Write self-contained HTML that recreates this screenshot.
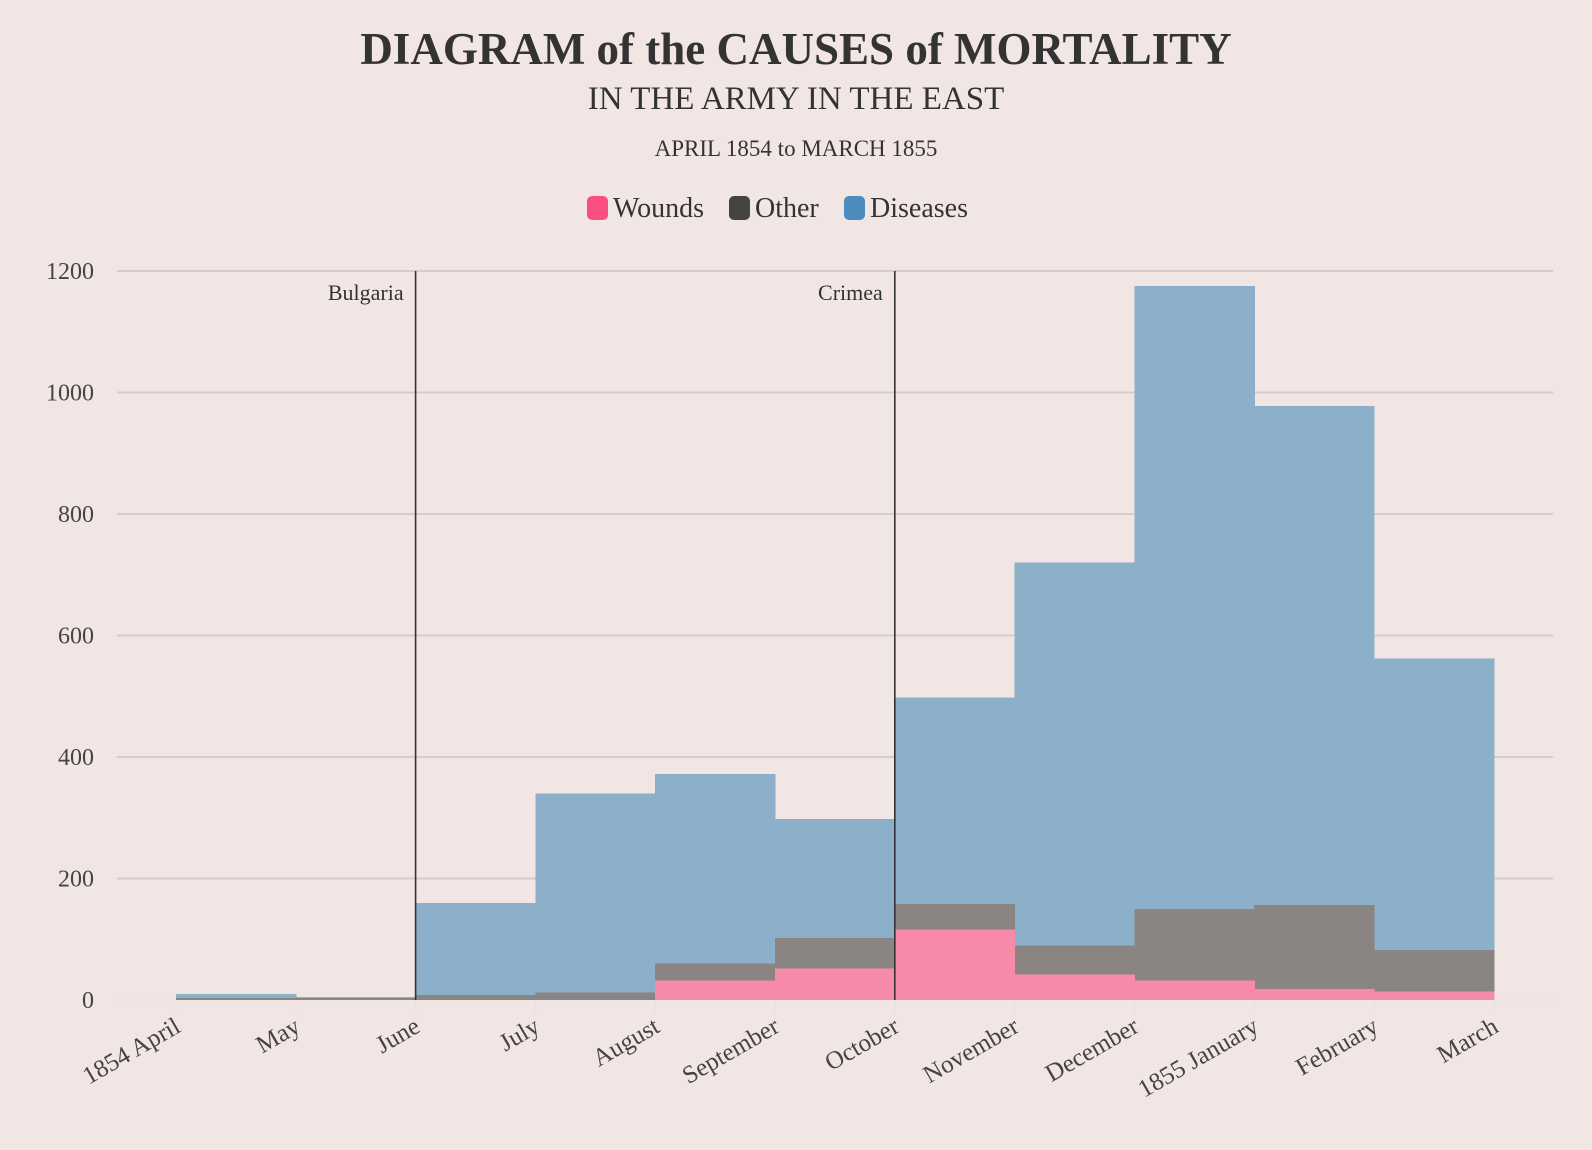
<!DOCTYPE html>
<html><head><meta charset="utf-8"><style>
html,body{margin:0;padding:0;background:#f2e6e5;}
svg{display:block;font-family:"Liberation Serif",serif;}
</style></head><body>
<svg id="chart" width="1592" height="1150" viewBox="0 0 1592 1150">
<rect width="1592" height="1150" fill="#f2e6e5"/>
<text x="796" y="64" text-anchor="middle" font-size="45" font-weight="bold" fill="#333">DIAGRAM of the CAUSES of MORTALITY</text>
<text x="796" y="109" text-anchor="middle" font-size="33" fill="#333">IN THE ARMY IN THE EAST</text>
<text x="796" y="156" text-anchor="middle" font-size="23" fill="#333">APRIL 1854 to MARCH 1855</text>
<g id="legend"></g>
<g id="grid"></g>
<g id="areas" shape-rendering="crispEdges"></g>
<g id="annot"></g>
<g id="xaxis"></g>
</svg>
<script>
const months = ["1854 April","May","June","July","August","September","October","November","December","1855 January","February","March"];
const diseases = [10,5,160,340,372,298,498,720,1175,978,562];
const other = [3,3,8,12,60,102,158,90,150,156,82];
const wounds = [0,0,0,0,32,52,116,42,32,18,14];
const yTicks = [0,200,400,600,800,1000,1200];
const events = [{label:"Bulgaria", idx:2},{label:"Crimea", idx:6}];

const NS="http://www.w3.org/2000/svg";
function mk(tag, attrs, parent){const e=document.createElementNS(NS,tag);for(const k in attrs)e.setAttribute(k,attrs[k]);parent.appendChild(e);return e;}
const x0=176, step=119.8, yBase=1000, ppu=729/1200;
const X=i=>x0+i*step;
const Y=v=>yBase-v*ppu;

const grid=document.getElementById('grid');
yTicks.forEach(t=>{
  const l=mk('line',{x1:117,x2:1553,y1:Y(t),y2:Y(t),stroke:t===0?'#e9e3e3':'#d6cccc','stroke-width':2},grid);
  
  
  const tx=mk('text',{x:94,y:Y(t)+8,'text-anchor':'end','font-size':24,fill:'#444'},grid);
  tx.textContent=t;
  
  
});

const areas=document.getElementById('areas');
function drawSeries(vals,color,name){
  vals.forEach((v,i)=>{
    if(v<=0)return;
    const r=mk('rect',{x:X(i),y:Y(v),width:step+0.6,height:Y(0)-Y(v),fill:color},areas);
    
    
  });
}
drawSeries(diseases,'#8db0ca','diseases');
drawSeries(other,'#8a8483','other');
drawSeries(wounds,'#f78aa8','wounds');

const annot=document.getElementById('annot');
events.forEach(ev=>{
  const l=mk('line',{x1:X(ev.idx),x2:X(ev.idx),y1:Y(1200),y2:Y(0),stroke:'#333','stroke-width':1.6},annot);
  
  
  const t=mk('text',{x:X(ev.idx)-12,y:Y(1200)+29,'text-anchor':'end','font-size':22,fill:'#333'},annot);
  t.textContent=ev.label;
  
  
});

const xa=document.getElementById('xaxis');
months.forEach((m,i)=>{
  const tk=mk('line',{x1:X(i),x2:X(i),y1:1001,y2:1013,stroke:'#e9e3e3','stroke-width':2},xa);
  
  
  const t=mk('text',{x:X(i)+6,y:1031,'text-anchor':'end','font-size':25,fill:'#444',transform:`rotate(-30 ${X(i)+6} 1031)`},xa);
  t.textContent=m;
  
  
});

const lg=document.getElementById('legend');
const items=[["Wounds","#fb4f82",587],["Other","#444444",729],["Diseases","#4a8cbb",844]];
items.forEach(([n,c,x])=>{
  const r=mk('rect',{x:x,y:196,width:21,height:24,rx:5,fill:c},lg);
  
  
  const t=mk('text',{x:x+26,y:217,'font-size':28,fill:'#333'},lg);
  t.textContent=n;
  
  
});
</script>
</body></html>
